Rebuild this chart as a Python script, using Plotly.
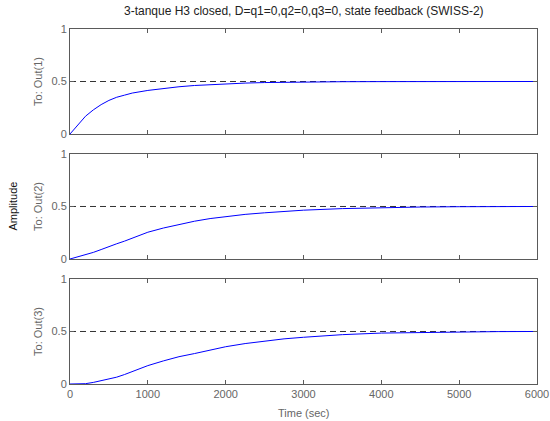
import plotly.graph_objects as go
from plotly.subplots import make_subplots

# Step response of the closed 3-tank system (state feedback, SWISS-2)
time_s = [0, 100, 200, 300, 400, 500, 600, 700, 800, 1000, 1200, 1400, 1600,
          1800, 2000, 2250, 2500, 2750, 3000, 3500, 4000, 4500, 5000, 5500, 6000]
out1 = [0, 0.09, 0.17, 0.23, 0.28, 0.32, 0.35, 0.37, 0.39, 0.415, 0.435, 0.45,
        0.462, 0.47, 0.478, 0.485, 0.49, 0.493, 0.495, 0.498, 0.499, 0.5, 0.5, 0.5, 0.5]
out2 = [0, 0.02, 0.04, 0.063, 0.09, 0.12, 0.145, 0.17, 0.2, 0.255, 0.295, 0.33,
        0.36, 0.385, 0.405, 0.425, 0.44, 0.455, 0.465, 0.48, 0.49, 0.495, 0.498, 0.5, 0.5]
out3 = [0, 0, 0.003, 0.015, 0.03, 0.045, 0.065, 0.09, 0.12, 0.175, 0.22, 0.26,
        0.29, 0.325, 0.355, 0.385, 0.41, 0.43, 0.445, 0.47, 0.485, 0.492, 0.497, 0.499, 0.5]
setpoint = 0.5
time_range = [0, 6000]
x_ticks = [0, 1000, 2000, 3000, 4000, 5000, 6000]
y_ticks = [0, 0.5, 1]
y_tick_text = ["0", "0.5", "1"]
out_labels = ["To: Out(1)", "To: Out(2)", "To: Out(3)"]

AX = "#5a5a5a"
TXT = "#666666"
FONT = "Liberation Sans, Arial, sans-serif"

fig = make_subplots(rows=3, cols=1, shared_xaxes=False, vertical_spacing=0.0563)
outputs = [out1, out2, out3]
for i, y in enumerate(outputs, start=1):
    fig.add_trace(go.Scatter(x=time_range, y=[setpoint, setpoint], mode="lines",
                             line=dict(color="#333333", width=1, dash="6px,4px"),
                             showlegend=False, hoverinfo="skip"), row=i, col=1)
    fig.add_trace(go.Scatter(x=time_s, y=y, mode="lines",
                             line=dict(color="#0000ff", width=1),
                             showlegend=False), row=i, col=1)
    fig.update_xaxes(range=time_range, tickvals=x_ticks, automargin=False,
                     showticklabels=(i == 3), ticks="inside", ticklen=4,
                     tickcolor=AX, showline=True, linecolor=AX, linewidth=1,
                     mirror="ticks", showgrid=False, zeroline=False,
                     tickfont=dict(family=FONT, size=11, color=TXT), row=i, col=1)
    fig.update_yaxes(range=[0, 1], tickvals=y_ticks, ticktext=y_tick_text,
                     automargin=False,
                     ticks="inside", ticklen=4, tickcolor=AX,
                     showline=True, linecolor=AX, linewidth=1, mirror="ticks",
                     showgrid=False, zeroline=False,
                     title=dict(text=out_labels[i - 1], standoff=6,
                                font=dict(family=FONT, size=11, color=TXT)),
                     tickfont=dict(family=FONT, size=11, color=TXT), row=i, col=1)

fig.update_layout(
    width=550, height=421,
    margin=dict(l=70, r=13, t=29, b=37),
    paper_bgcolor="white", plot_bgcolor="white",
    font=dict(family=FONT, size=11, color=TXT),
    annotations=list(fig.layout.annotations) + [
        dict(text="3-tanque H3 closed, D=q1=0,q2=0,q3=0, state feedback (SWISS-2)",
             xref="paper", yref="paper", x=0.5, y=1, yshift=9, yanchor="bottom",
             xanchor="center", showarrow=False,
             font=dict(family=FONT, size=12, color="#222222")),
        dict(text="Amplitude", xref="paper", yref="paper", x=0, xshift=-58,
             y=0.5, textangle=-90, showarrow=False, xanchor="center",
             font=dict(family=FONT, size=11, color="#111111")),
        dict(text="Time (sec)", xref="paper", yref="paper", x=0.5, y=0,
             yshift=-21, yanchor="top", showarrow=False,
             font=dict(family=FONT, size=11, color=TXT)),
    ],
)

fig.write_html("out.html")
